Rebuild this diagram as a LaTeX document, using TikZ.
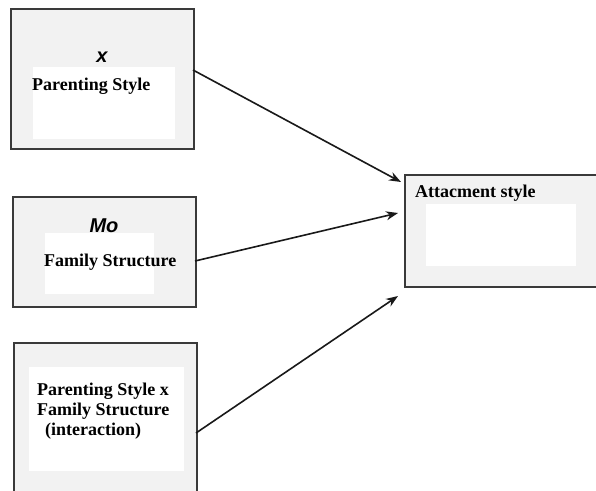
\documentclass[tikz,border=0pt]{standalone}
\usepackage{fontspec}
\setmainfont{Liberation Serif}
\newfontfamily\lsans{Liberation Sans}
\usetikzlibrary{arrows.meta}
\definecolor{boxgray}{HTML}{F2F2F2}
\definecolor{edge}{HTML}{3A3A3A}
\tikzset{
  outerbox/.style={draw=edge, line width=1.7pt, fill=boxgray, anchor=north west, inner sep=0pt},
  innerbox/.style={fill=white, draw=none, anchor=north west, inner sep=0pt},
  lbl/.style={font=\fontsize{18}{20}\selectfont\bfseries, inner sep=0pt, text=black},
  var/.style={font=\lsans\fontsize{20}{20}\selectfont\bfseries\itshape, inner sep=0pt, text=black},
  conn/.style={line width=1.6pt, -{Stealth[length=12pt,width=9pt]}, draw=black!90}
}
\begin{document}
\begin{tikzpicture}[x=1pt,y=-1pt]
\useasboundingbox (0,0) rectangle (596,490);
% box 1
\node[outerbox, minimum width=183pt, minimum height=140pt] (b1) at (10,8) {};
\node[innerbox, minimum width=142pt, minimum height=72pt] (w1) at (33,67) {};
\node[var] (x) at (102,57) {x};
\node[lbl, anchor=west] (t1) at (32,86) {Parenting Style};
% box 2
\node[outerbox, minimum width=183pt, minimum height=110pt] (b2) at (12,196) {};
\node[innerbox, minimum width=109pt, minimum height=61pt] (w2) at (45,233) {};
\node[var] (mo) at (104,226) {Mo};
\node[lbl, anchor=west] (t2) at (44,262) {Family Structure};
% box 3
\node[outerbox, minimum width=183pt, minimum height=160pt] (b3) at (13,342) {};
\node[innerbox, minimum width=155pt, minimum height=104pt] (w3) at (29,367) {};
\node[lbl, anchor=west] (t3a) at (37,391) {Parenting Style x};
\node[lbl, anchor=west] (t3b) at (37,411) {Family Structure};
\node[lbl, anchor=west] (t3c) at (45,431) {(interaction)};
% box 4
\node[outerbox, minimum width=200pt, minimum height=112pt] (b4) at (404,174) {};
\node[innerbox, minimum width=150pt, minimum height=62pt] (w4) at (426,204) {};
\node[lbl, anchor=west] (t4) at (415,193) {Attacment style};
% connector endpoints
\coordinate (s1) at (193,70);
\coordinate (e1) at (401,182);
\coordinate (s2) at (195,261);
\coordinate (e2) at (398,213);
\coordinate (s3) at (196,433);
\coordinate (e3) at (398,296);
\draw[conn] (s1) -- (e1);
\draw[conn] (s2) -- (e2);
\draw[conn] (s3) -- (e3);
\end{tikzpicture}
\end{document}
